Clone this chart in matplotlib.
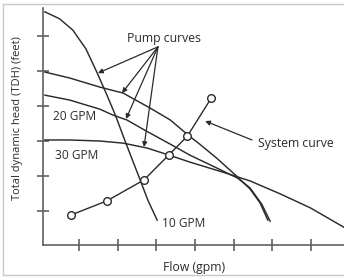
import matplotlib.pyplot as plt
from matplotlib.lines import Line2D

# values (flow in gpm, head in feet)
steep_flow = [0.6, 2.5, 4.2, 5.9, 7.3, 8.5, 9.7, 10.8, 11.9, 12.9, 13.9, 15.1]
steep_head = [66.9, 64.9, 61.7, 56.3, 49.7, 43.7, 37.4, 30.9, 24.6, 18.9, 13.1, 7.4]

upper_flow = [0.6, 3.8, 7.7, 10.7, 14.2, 16.8, 19.1, 20.6, 22.8, 25.5, 27.1, 28.4, 29.4]
upper_head = [49.7, 48.0, 45.4, 43.7, 39.4, 36.0, 31.7, 29.1, 25.1, 19.7, 16.3, 12.3, 7.4]

mid_flow = [0.6, 3.8, 7.7, 9.4, 11.2, 13.5, 16.8, 19.3, 22.8, 25.5, 27.1, 28.6, 29.7]
mid_head = [43.1, 41.7, 39.1, 37.4, 36.0, 33.1, 29.1, 26.0, 22.3, 19.4, 16.6, 12.0, 7.1]

flat_flow = [0.6, 3.8, 7.7, 10.7, 13.8, 16.6, 19.3, 23.6, 27.1, 31.0, 34.9, 39.2]
flat_head = [30.3, 30.3, 30.0, 29.4, 28.0, 26.0, 24.0, 21.1, 18.6, 14.9, 10.9, 5.4]

system_flow = [4.0, 8.6, 13.4, 16.6, 19.0, 22.1]
system_head = [8.9, 12.9, 18.9, 26.0, 31.4, 42.3]

# arrows from the "Pump curves" label to each pump curve
pump_label_xy = (16.0, 59.4)
pump_arrow_from = (15.2, 56.9)
pump_arrow_tips = [(7.45, 49.4), (10.56, 43.7), (11.07, 36.3), (13.4, 28.3)]

ink = '#2b2b2b'
axis_gray = '#606060'
plt.rcParams['font.family'] = ['Open Sans', 'DejaVu Sans']

fig = plt.figure(figsize=(3.44, 2.8), dpi=100)
ax = fig.add_axes([43 / 344, 35 / 280, 301 / 344, 237 / 280])

# light frame round the picture (top, left, bottom only)
for xs, ys in [([3, 344], [276, 276]), ([3, 3], [5, 276]), ([3, 344], [5, 5])]:
    fig.lines.append(Line2D([x / 344 for x in xs], [y / 280 for y in ys],
                            transform=fig.transFigure, color='#c8c8c8', lw=1))

for fx, hy in [(steep_flow, steep_head), (upper_flow, upper_head),
               (mid_flow, mid_head), (flat_flow, flat_head)]:
    ax.plot(fx, hy, color=ink, lw=1.05, solid_joinstyle='round', clip_on=False)

ax.plot(system_flow, system_head, color=ink, lw=1.0, marker='o', ms=5.5,
        mfc='white', mec=ink, mew=1.0)

arrow = dict(arrowstyle='-|>', mutation_scale=7, lw=0.9, color=ink, shrinkA=0, shrinkB=0)
for tip in pump_arrow_tips:
    ax.annotate('', xy=tip, xytext=pump_arrow_from, arrowprops=arrow)
ax.annotate('', xy=(21.3, 35.7), xytext=(27.35, 30.3), arrowprops=arrow)

ax.text(*pump_label_xy, 'Pump curves', ha='center', va='center', fontsize=8.8, color=ink)
ax.text(1.6, 36.9, '20 GPM', ha='left', va='center', fontsize=8.6, color=ink)
ax.text(1.9, 26.0, '30 GPM', ha='left', va='center', fontsize=8.6, color=ink)
ax.text(15.7, 6.3, '10 GPM', ha='left', va='center', fontsize=8.6, color=ink)
ax.text(28.1, 29.4, 'System curve', ha='left', va='center', fontsize=8.8, color=ink)

ax.set_xlim(0.35, 39.24)
ax.set_ylim(0.3, 68.0)
ax.set_xticks([5, 10, 15, 20, 25, 30, 35])
ax.set_yticks([10, 20, 30, 40, 50, 60])
ax.set_xticklabels([])
ax.set_yticklabels([])
ax.tick_params(direction='inout', length=8, width=1.2, color=axis_gray)
ax.spines['top'].set_visible(False)
ax.spines['right'].set_visible(False)
for side in ['left', 'bottom']:
    ax.spines[side].set_color(axis_gray)
    ax.spines[side].set_linewidth(1.2)

fig.text(18 / 344, 1 - 118 / 280, 'Total dynamic head (TDH) (feet)', rotation=90,
         ha='center', va='center', fontsize=8, color=ink)
fig.text(194 / 344, 1 - 268 / 280, 'Flow (gpm)', ha='center', va='center',
         fontsize=8.8, color=ink)

fig.savefig('out.png', dpi=100)
